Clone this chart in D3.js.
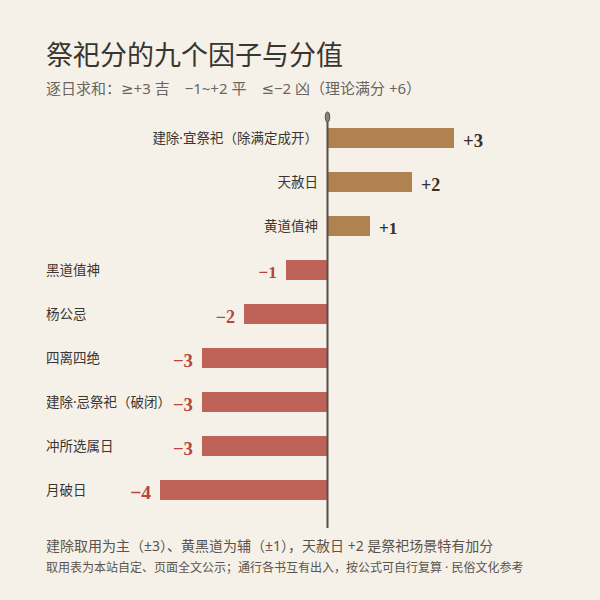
<!DOCTYPE html>
<html>
<head>
<meta charset="utf-8">
<script src="https://cdn.jsdelivr.net/npm/d3@7"></script>
<style>
  html, body { margin: 0; padding: 0; background: #f5f1e8; }
  svg { display: block; }
</style>
</head>
<body>
<script>
(function() {

	// data
	var factors = [
		"建除·宜祭祀（除满定成开）",
		"天赦日",
		"黄道值神",
		"黑道值神",
		"杨公忌",
		"四离四绝",
		"建除·忌祭祀（破闭）",
		"冲所选属日",
		"月破日"
	];
	var scores = [3, 2, 1, -1, -2, -3, -3, -3, -4];

	var title = "祭祀分的九个因子与分值";
	var subtitle = "逐日求和：≥+3 吉　−1~+2 平　≤−2 凶（理论满分 +6）";
	var notes = [
		"建除取用为主（±3）、黄黑道为辅（±1），天赦日 +2 是祭祀场景特有加分",
		"取用表为本站自定、页面全文公示；通行各书互有出入，按公式可自行复算 · 民俗文化参考"
	];

	var rows = factors.map(function(f, i) { return {name: f, score: scores[i]}; });

	var W = 600, H = 600;
	var SANS = "'Noto Sans', 'DejaVu Sans', 'Noto Sans CJK SC', sans-serif";
	var SERIF = "'Liberation Serif', serif";
	var POS_BAR = "#b08250", NEG_BAR = "#bf6359";
	var POS_TXT = "#3a2f28", NEG_TXT = "#b8443c";

	var svg = d3.select("body").append("svg")
		.attr("width", W)
		.attr("height", H);

	svg.append("rect")
		.attr("width", W)
		.attr("height", H)
		.attr("fill", "#f5f1e8");

	svg.append("text")
		.attr("x", 46)
		.attr("y", 65)
		.attr("font-family", SANS)
		.attr("font-size", 27)
		.attr("fill", "#3a3531")
		.text(title);

	svg.append("text")
		.attr("x", 46)
		.attr("y", 94)
		.attr("font-family", SANS)
		.attr("font-size", 15)
		.attr("fill", "#6b655e")
		.text(subtitle);

	var x = d3.scaleLinear()
		.domain([-4, 3])
		.range([160, 454]);

	var y = d3.scaleBand()
		.domain(factors)
		.range([116, 512])
		.paddingInner(24/44)
		.paddingOuter(12/44);

	var x0 = x(0);

	var g = svg.selectAll(".row")
		.data(rows)
		.enter()
		.append("g")
			.attr("class", "row");

	g.append("rect")
		.attr("x", d => Math.min(x(d.score), x0))
		.attr("y", d => y(d.name))
		.attr("width", d => Math.abs(x(d.score) - x0))
		.attr("height", y.bandwidth())
		.attr("fill", d => d.score > 0 ? POS_BAR : NEG_BAR);

	// factor names: next to the axis for positive, flush left for negative
	g.append("text")
		.attr("x", d => d.score > 0 ? x0 - 10 : 46)
		.attr("y", d => y(d.name) + y.bandwidth()/2)
		.attr("dy", "0.36em")
		.attr("text-anchor", d => d.score > 0 ? "end" : "start")
		.attr("font-family", SANS)
		.attr("font-size", 13.5)
		.attr("fill", "#3a3531")
		.text(d => d.name);

	// score labels grow a little with the magnitude
	g.append("text")
		.attr("x", d => d.score > 0 ? x(d.score) + 9 : x(d.score) - 9)
		.attr("y", d => y(d.name) + y.bandwidth()/2)
		.attr("dy", "0.48em")
		.attr("text-anchor", d => d.score > 0 ? "start" : "end")
		.attr("font-family", SERIF)
		.attr("font-weight", "bold")
		.attr("font-size", d => 16.5 + 0.75*Math.abs(d.score))
		.attr("fill", d => d.score > 0 ? POS_TXT : NEG_TXT)
		.text(d => (d.score > 0 ? "+" : "−") + Math.abs(d.score));

	// zero axis
	svg.append("line")
		.attr("x1", x0 - 0.5)
		.attr("x2", x0 - 0.5)
		.attr("y1", 117)
		.attr("y2", 528)
		.attr("stroke", "#5a4f46")
		.attr("stroke-width", 2);

	svg.append("ellipse")
		.attr("cx", x0 - 0.5)
		.attr("cy", 117)
		.attr("rx", 2.2)
		.attr("ry", 5)
		.attr("fill", "#8a8178")
		.attr("stroke", "#5a4f46")
		.attr("stroke-width", 1);

	svg.append("text")
		.attr("x", 46)
		.attr("y", 551)
		.attr("font-family", SANS)
		.attr("font-size", 14)
		.attr("fill", "#5a544d")
		.text(notes[0]);

	svg.append("text")
		.attr("x", 46)
		.attr("y", 572)
		.attr("font-family", SANS)
		.attr("font-size", 12)
		.attr("fill", "#5a544d")
		.text(notes[1]);

}) ();
</script>
</body>
</html>
